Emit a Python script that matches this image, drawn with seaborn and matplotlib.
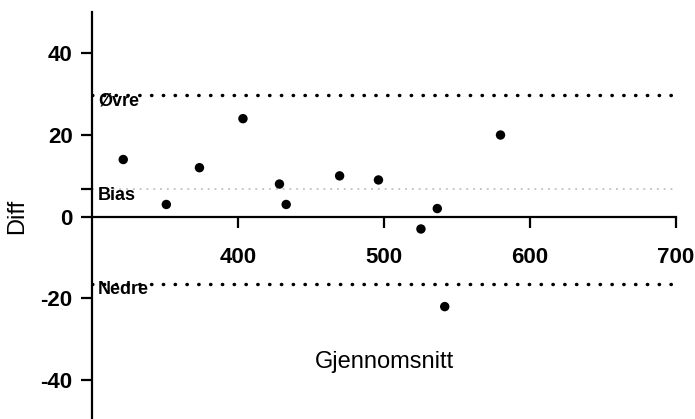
import matplotlib
matplotlib.use("Agg")
import matplotlib.pyplot as plt
import seaborn as sns
import numpy as np
import pandas as pd

# Bland-Altman data
mean_vals = [321.4, 350.9, 373.6, 403.4, 428.4, 433.0, 469.6, 496.2, 525.3, 536.5, 541.6, 579.8]
diff_vals = [14, 3, 12, 24, 8, 3, 10, 9, -3, 2, -22, 20]
x_ticks = [400, 500, 600, 700]
y_ticks = [-40, -20, 0, 20, 40]

df = pd.DataFrame({"Gjennomsnitt": mean_vals, "Diff": diff_vals})

# bias and limits of agreement
bias = np.mean(diff_vals)
sd = np.std(diff_vals, ddof=1)
upper = bias + 1.96 * sd
lower = bias - 1.96 * sd

sns.set_theme(style="white")
plt.rcParams["font.family"] = ["Liberation Sans", "DejaVu Sans"]
plt.rcParams["text.color"] = "black"

fig = plt.figure(figsize=(6.95, 4.19), dpi=100)
ax = fig.add_axes([92 / 695, -0.0048, 584 / 695, 0.9751])

sns.scatterplot(data=df, x="Gjennomsnitt", y="Diff", ax=ax, color="black",
                s=46, edgecolor="none", zorder=4)

# reference lines
ax.plot([300, 700], [upper, upper], color="black", lw=2.5,
        linestyle=(0, (0.1, 3.3)), dash_capstyle="round", zorder=2)
ax.plot([300, 700], [lower, lower], color="black", lw=2.5,
        linestyle=(0, (0.1, 3.3)), dash_capstyle="round", zorder=2)
ax.plot([300, 700], [bias, bias], color="#c8c8c8", lw=1.4,
        linestyle=(0, (1, 2.5)), zorder=1)

lbl = dict(fontsize=13, fontweight="bold", ha="left", va="top", color="black", zorder=5)
ax.text(304, upper + 0.6, "Øvre", **lbl)
ax.text(304, bias + 0.6, "Bias", **lbl)
ax.text(304, lower + 0.7, "Nedre", **lbl)

ax.set_xlim(300, 700)
ax.set_ylim(-50, 50)

ax.spines["top"].set_visible(False)
ax.spines["right"].set_visible(False)
ax.spines["bottom"].set_position(("data", 0))
for s in ["left", "bottom"]:
    ax.spines[s].set_linewidth(1.6)
    ax.spines[s].set_color("black")

ax.set_xticks(x_ticks)
ax.set_xticklabels([str(v) for v in x_ticks])
ax.set_yticks(y_ticks + [bias])
ax.set_yticklabels([str(v) for v in y_ticks] + [""])
ax.tick_params(axis="both", direction="out", length=8, width=1.6, color="black",
               labelsize=16, labelcolor="black")
ax.tick_params(axis="x", pad=14, bottom=True)
ax.tick_params(axis="y", pad=6, left=True)
for t in ax.get_xticklabels() + ax.get_yticklabels():
    t.set_fontweight("bold")

ax.set_xlabel("")
ax.set_ylabel("")
fig.text(384 / 695, 1 - 362 / 419, "Gjennomsnitt", fontsize=17,
         ha="center", va="center", color="black")
fig.text(17 / 695, 1 - 216 / 419, "Diff", fontsize=17, rotation=90,
         ha="center", va="center", color="black")

fig.savefig("out.png", dpi=100)
